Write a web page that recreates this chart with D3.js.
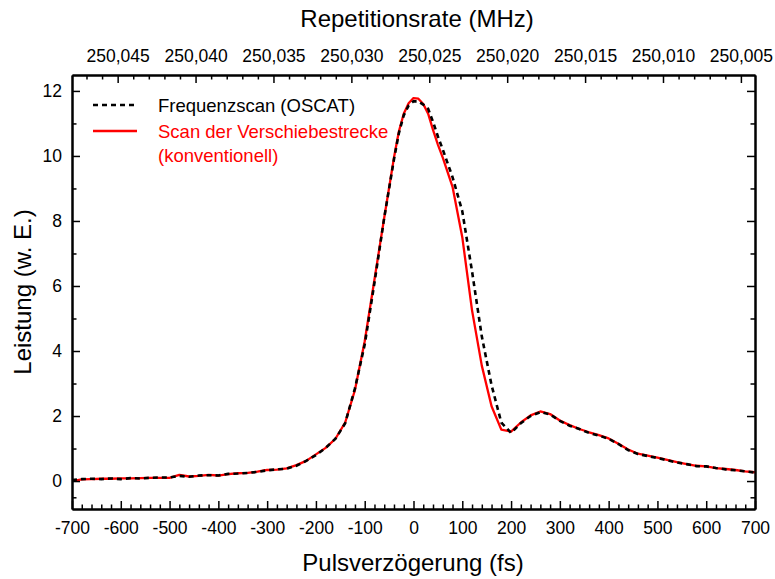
<!DOCTYPE html>
<html lang="de">
<head>
    <meta charset="UTF-8">
    <title>Pulsverzoegerung</title>
    <script src="https://d3js.org/d3.v7.min.js"></script>
    <style>
        body { margin: 0; background: #fff; }
        svg { display: block; font-family: Arial, "Liberation Sans", sans-serif; }
        .axis text { font-size: 17.5px; fill: #000; }
        .axis .domain { stroke: #000; stroke-width: 2px; }
        .axis line { stroke: #000; stroke-width: 1.5px; }
    </style>
</head>
<body>
<svg width="775" height="579"></svg>

<script>
    // Pulsverzoegerung in fs (gemeinsames Raster beider Messungen)
    const delay = [-700,-680,-660,-640,-620,-600,-580,-560,-540,-520,-500,-480,-460,-440,-420,-400,
        -380,-360,-340,-320,-300,-280,-260,-240,-220,-200,-180,-160,-140,-120,-100,-80,-60,-40,-30,-20,-10,
        0,10,20,30,40,50,60,80,100,120,140,160,180,200,220,240,260,280,300,320,340,360,380,400,420,440,460,
        480,500,520,540,560,580,600,620,640,660,680,700];

    // Frequenzscan (OSCAT), gestrichelt
    const oscat = [0.03,0.06,0.07,0.06,0.08,0.06,0.09,0.08,0.10,0.11,0.11,0.16,0.13,0.17,0.18,0.17,
        0.22,0.23,0.25,0.28,0.33,0.36,0.38,0.47,0.62,0.80,1.02,1.30,1.78,2.85,4.20,6.10,8.10,9.90,10.70,11.25,11.55,
        11.68,11.68,11.58,11.45,11.05,10.60,10.20,9.35,8.30,6.45,4.45,2.95,1.80,1.48,1.78,2.00,2.12,2.05,1.85,1.70,1.60,
        1.48,1.40,1.30,1.14,0.95,0.83,0.77,0.71,0.64,0.57,0.52,0.46,0.45,0.40,0.36,0.33,0.30,0.26];

    // Scan der Verschiebestrecke (konventionell), rot
    const conventional = [0.00,0.05,0.06,0.07,0.07,0.08,0.08,0.09,0.10,0.10,0.10,0.19,0.14,0.16,0.19,0.17,
        0.21,0.24,0.25,0.29,0.34,0.35,0.39,0.49,0.62,0.82,1.02,1.30,1.80,2.80,4.30,6.20,8.10,9.95,10.75,11.30,11.62,
        11.78,11.76,11.60,11.30,10.80,10.35,9.95,9.05,7.50,5.25,3.55,2.30,1.58,1.52,1.80,2.02,2.14,2.06,1.86,1.72,1.60,
        1.50,1.41,1.31,1.15,0.97,0.84,0.78,0.72,0.65,0.58,0.52,0.47,0.45,0.40,0.37,0.34,0.30,0.27];

    const xTicks = [-700,-600,-500,-400,-300,-200,-100,0,100,200,300,400,500,600,700];
    const yTicks = [0,2,4,6,8,10,12];
    const topTicks = [250.045,250.040,250.035,250.030,250.025,250.020,250.015,250.010,250.005];

    const legendLabels = [["Frequenzscan (OSCAT)"], ["Scan der Verschiebestrecke", "(konventionell)"]];

    const svg = d3.select("svg");
    const plotLeft = 72, plotRight = 755, plotTop = 75, plotBottom = 509;

    let x = d3.scaleLinear().domain([-700, 700]).range([plotLeft, plotRight]);
    let y = d3.scaleLinear().domain([-0.86, 12.49]).range([plotBottom, plotTop]);
    let xTop = d3.scaleLinear().domain([250.04793, 250.004095]).range([plotLeft, plotRight]);

    // minor ticks
    const xMinor = d3.range(-700, 701, 20).filter(v => v % 100 !== 0);
    const yMinor = [-0.5, 1, 3, 5, 7, 9, 11];
    const topMinor = d3.range(250004, 250048).map(v => v / 1000)
        .filter(v => v > 250.0041 && v <= 250.0479 && (Math.round(v * 1000) % 5) !== 0);

    const fmtTop = v => d3.format(".3f")(v).replace(".", ",");
    const fmtPlain = v => String(v); // Bindestrich statt Unicode-Minus

    // curves
    svg.append("clipPath").attr("id", "plotclip")
        .append("rect").attr("x", plotLeft).attr("y", plotTop)
        .attr("width", plotRight - plotLeft).attr("height", plotBottom - plotTop);

    let line = d3.line().x((d, i) => x(delay[i])).y(d => y(d));

    svg.append("path")
        .attr("clip-path", "url(#plotclip)")
        .attr("d", line(conventional))
        .attr("fill", "none").attr("stroke", "#ff0000").attr("stroke-width", 2.3)
        .attr("stroke-linejoin", "round");

    svg.append("path")
        .attr("clip-path", "url(#plotclip)")
        .attr("d", line(oscat))
        .attr("fill", "none").attr("stroke", "#000").attr("stroke-width", 2.6)
        .attr("stroke-dasharray", "5,4");

    // axes
    svg.append("g").attr("class", "axis").attr("transform", `translate(0,${plotBottom})`)
        .call(d3.axisBottom(x).tickValues(xMinor).tickSize(-4.5).tickSizeOuter(0).tickFormat(""));
    svg.append("g").attr("class", "axis").attr("transform", `translate(0,${plotBottom})`)
        .call(d3.axisBottom(x).tickValues(xTicks).tickSize(-8).tickSizeOuter(0).tickPadding(13).tickFormat(fmtPlain));

    svg.append("g").attr("class", "axis").attr("transform", `translate(0,${plotTop})`)
        .call(d3.axisTop(xTop).tickValues(topMinor).tickSize(-4.5).tickSizeOuter(0).tickFormat(""));
    svg.append("g").attr("class", "axis").attr("transform", `translate(0,${plotTop})`)
        .call(d3.axisTop(xTop).tickValues(topTicks).tickSize(-8).tickSizeOuter(0).tickPadding(13).tickFormat(fmtTop));

    svg.append("g").attr("class", "axis").attr("transform", `translate(${plotLeft},0)`)
        .call(d3.axisLeft(y).tickValues(yMinor).tickSize(-4.5).tickSizeOuter(0).tickFormat(""));
    svg.append("g").attr("class", "axis").attr("transform", `translate(${plotLeft},0)`)
        .call(d3.axisLeft(y).tickValues(yTicks).tickSize(-8).tickSizeOuter(0).tickPadding(10).tickFormat(fmtPlain));

    svg.append("g").attr("class", "axis").attr("transform", `translate(${plotRight},0)`)
        .call(d3.axisRight(y).tickValues(yMinor).tickSize(-4.5).tickSizeOuter(0).tickFormat(""));
    svg.append("g").attr("class", "axis").attr("transform", `translate(${plotRight},0)`)
        .call(d3.axisRight(y).tickValues(yTicks).tickSize(-8).tickSizeOuter(0).tickFormat(""));

    // axis titles
    svg.append("text").attr("x", 417).attr("y", 27).attr("text-anchor", "middle")
        .attr("font-size", 24).text("Repetitionsrate (MHz)");
    svg.append("text").attr("x", 413).attr("y", 571).attr("text-anchor", "middle")
        .attr("font-size", 24).text("Pulsverzögerung (fs)");
    svg.append("text").attr("transform", "translate(31,292) rotate(-90)").attr("text-anchor", "middle")
        .attr("font-size", 24).text("Leistung (w. E.)");

    // legend
    const legendY = [105, 131];
    const legendColor = ["#000", "#ff0000"];
    legendLabels.forEach(function (lines, i) {
        let g = svg.append("g");
        g.append("line").attr("x1", 93).attr("x2", 137).attr("y1", legendY[i]).attr("y2", legendY[i])
            .attr("stroke", legendColor[i]).attr("stroke-width", i === 0 ? 2.6 : 2.3)
            .attr("stroke-dasharray", i === 0 ? "5,4" : null);
        lines.forEach(function (t, j) {
            g.append("text").attr("x", 158).attr("y", legendY[i] + 7 + j * 24)
                .attr("font-size", 18.5).attr("fill", legendColor[i]).text(t);
        });
    });
</script>
</body>
</html>
